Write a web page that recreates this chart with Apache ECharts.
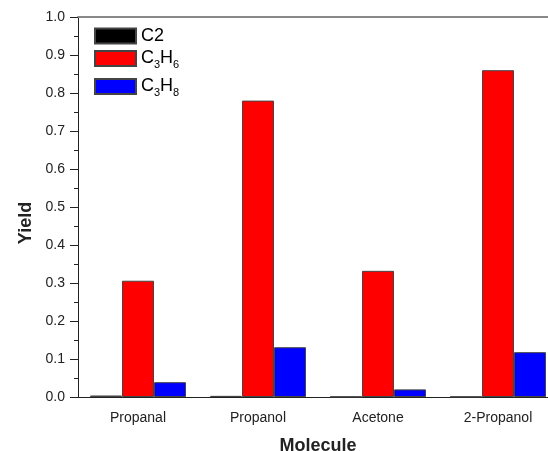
<!DOCTYPE html>
<html>
<head>
<meta charset="utf-8">
<script src="https://cdn.jsdelivr.net/npm/echarts@6/dist/echarts.min.js"></script>
<style>html,body{margin:0;padding:0;background:#fff}#c{width:548px;height:451px}</style>
</head>
<body>
<div id="c"></div>
<script>
var categories = ['Propanal', 'Propanol', 'Acetone', '2-Propanol'];
var c2 = [0.004, 0.003, 0.001, 0.001];
var c3h6 = [0.306, 0.780, 0.332, 0.860];
var c3h8 = [0.039, 0.131, 0.020, 0.118];
var yTicks = [0, 0.1, 0.2, 0.3, 0.4, 0.5, 0.6, 0.7, 0.8, 0.9, 1.0];
var seriesNames = ['C2', 'C3H6', 'C3H8'];
var legendLabels = {
  'C2': '{b|C2}',
  'C3H6': '{b|C}{s|3}{b|H}{s|6}',
  'C3H8': '{b|C}{s|3}{b|H}{s|8}'
};
var colors = ['#000000', '#ff0000', '#0000ff'];
var FONT = '"Liberation Sans", Arial, sans-serif';

var chart = echarts.init(document.getElementById('c'), null, {renderer: 'canvas'});
var rich = {
  b: {fontSize: 18, fontFamily: FONT, color: '#000', lineHeight: 18},
  s: {fontSize: 11, fontFamily: FONT, color: '#000', lineHeight: 18, padding: [12, 0, 0, 0]}
};
function mkLegend(name, top) {
  return {
    data: [name], left: 94, top: top, itemWidth: 41, itemHeight: 15, padding: 0,
    icon: 'rect', selectedMode: false, itemGap: 0,
    formatter: function (n) { return legendLabels[n]; },
    textStyle: {rich: rich, fontFamily: FONT, fontSize: 18}
  };
}
var dataSets = [c2, c3h6, c3h8];
var option = {
  animation: false,
  backgroundColor: '#fff',
  grid: {left: 78, top: 17, bottom: 54, width: 480, outerBoundsMode: 'none', containLabel: false},
  legend: [mkLegend('C2', 27), mkLegend('C3H6', 47), mkLegend('C3H8', 75)],
  xAxis: [
    {
      type: 'category', data: categories, position: 'bottom',
      axisLine: {lineStyle: {color: '#222', width: 1}},
      axisTick: {alignWithLabel: true, length: 6, lineStyle: {color: '#222'}},
      axisLabel: {margin: 14, fontSize: 14, color: '#222', fontFamily: FONT},
      name: 'Molecule', nameLocation: 'middle', nameGap: 40,
      nameTextStyle: {fontSize: 18, fontWeight: 'bold', color: '#222', fontFamily: FONT}
    },
    {
      type: 'category', data: categories, position: 'bottom',
      axisLine: {show: false},
      axisTick: {length: 3, lineStyle: {color: '#222'}},
      axisLabel: {show: false}
    },
    {
      type: 'category', data: categories, position: 'top',
      axisLine: {lineStyle: {color: '#888', width: 2}},
      axisTick: {show: false}, axisLabel: {show: false}
    }
  ],
  yAxis: {
    type: 'value', min: 0, max: 1, interval: 0.1,
    axisLine: {show: true, lineStyle: {color: '#222', width: 1}},
    axisTick: {show: true, length: 8, lineStyle: {color: '#222'}},
    minorTick: {show: true, splitNumber: 2, length: 4, lineStyle: {color: '#222'}},
    splitLine: {show: false},
    axisLabel: {margin: 13, fontSize: 14, color: '#222', fontFamily: FONT,
      formatter: function (v) { return v.toFixed(1); }},
    name: 'Yield', nameLocation: 'middle', nameGap: 42, nameRotate: 90,
    nameTextStyle: {fontSize: 18, fontWeight: 'bold', color: '#222', fontFamily: FONT, padding: [0, 32, 0, 0]}
  },
  series: seriesNames.map(function (n, i) {
    return {
      name: n, type: 'bar', xAxisIndex: 0, data: dataSets[i],
      barWidth: 32, barGap: '0%',
      itemStyle: {color: colors[i], borderColor: '#444', borderWidth: 1}
    };
  })
};
chart.setOption(option);
</script>
</body>
</html>
